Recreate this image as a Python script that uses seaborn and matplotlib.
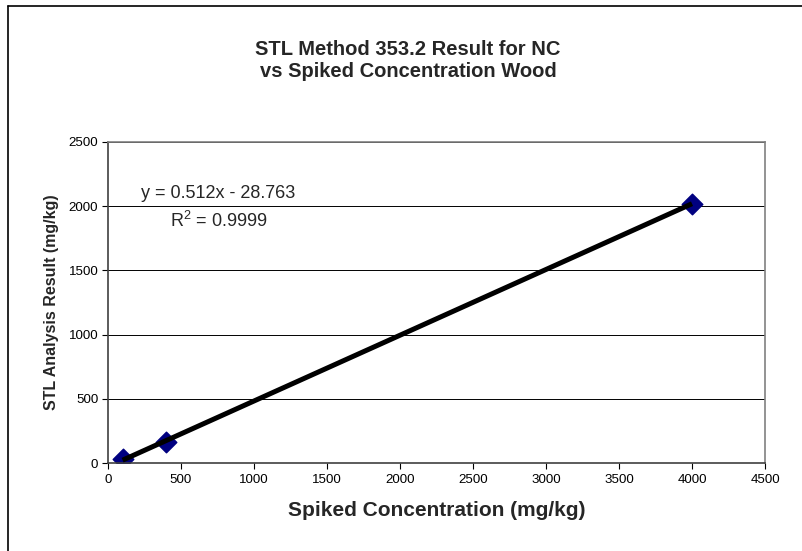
import matplotlib
matplotlib.use('Agg')
import matplotlib.pyplot as plt
import numpy as np
import pandas as pd
import seaborn as sns
from matplotlib.lines import Line2D

# data
spiked = [100, 400, 4000]
result = [30, 167, 2020]
x_ticks = [0, 500, 1000, 1500, 2000, 2500, 3000, 3500, 4000, 4500]
y_ticks = [0, 500, 1000, 1500, 2000, 2500]
eq_text = 'y = 0.512x - 28.763'
r2_text = '$\\mathregular{R^2}$ = 0.9999'

df = pd.DataFrame({'spiked': spiked, 'result': result})

sns.set_style('white')
plt.rcParams['font.family'] = ['Liberation Sans', 'DejaVu Sans']

fig = plt.figure(figsize=(8.03, 5.51), dpi=100)
ax = fig.add_axes([0.1345, 0.1597, 0.8182, 0.5826])

# gridlines behind
for yv in y_ticks[1:]:
    ax.axhline(yv, color='black', lw=0.7, zorder=0)

# points + linear trendline (line drawn over the markers)
sns.regplot(data=df, x='spiked', y='result', ax=ax, ci=None, marker='D',
            scatter_kws={'s': 110, 'color': '#000080', 'edgecolor': '#000080',
                         'alpha': 1, 'zorder': 2},
            line_kws={'color': 'black', 'lw': 3.6, 'zorder': 3, 'solid_capstyle': 'butt'})

ax.set_xlim(0, 4500)
ax.set_ylim(0, 2500)
ax.set_xticks(x_ticks)
ax.set_yticks(y_ticks)
ax.tick_params(axis='both', labelsize=9.6, direction='out', length=4, width=0.8,
               colors='black', bottom=True, left=True)
ax.tick_params(axis='x', pad=4)
ax.tick_params(axis='y', pad=3)

for side in ['left', 'bottom']:
    ax.spines[side].set_color('#404040')
    ax.spines[side].set_linewidth(1.2)
for side in ['top', 'right']:
    ax.spines[side].set_color('#808080')
    ax.spines[side].set_linewidth(1.2)

ax.set_xlabel('Spiked Concentration (mg/kg)', fontsize=15, fontweight='bold', labelpad=11)
ax.set_ylabel('STL Analysis Result (mg/kg)', fontsize=11.5, fontweight='bold', labelpad=7)

# trendline equation
ax.text(0.167, 0.841, eq_text, transform=ax.transAxes, fontsize=13,
        ha='center', va='center')
ax.text(0.169, 0.753, r2_text, transform=ax.transAxes, fontsize=13,
        ha='center', va='center')

fig.text(0.508, 0.89, 'STL Method 353.2 Result for NC\nvs Spiked Concentration Wood',
         fontsize=14.5, fontweight='bold', ha='center', va='center', linespacing=1.15)

# chart area border (left and top visible)
fig.add_artist(Line2D([8 / 803, 8 / 803], [0, 1 - 6 / 551], transform=fig.transFigure,
                      color='black', lw=1.2))
fig.add_artist(Line2D([8 / 803, 1], [1 - 6 / 551, 1 - 6 / 551], transform=fig.transFigure,
                      color='black', lw=1.2))

fig.savefig('out.png', dpi=100)
